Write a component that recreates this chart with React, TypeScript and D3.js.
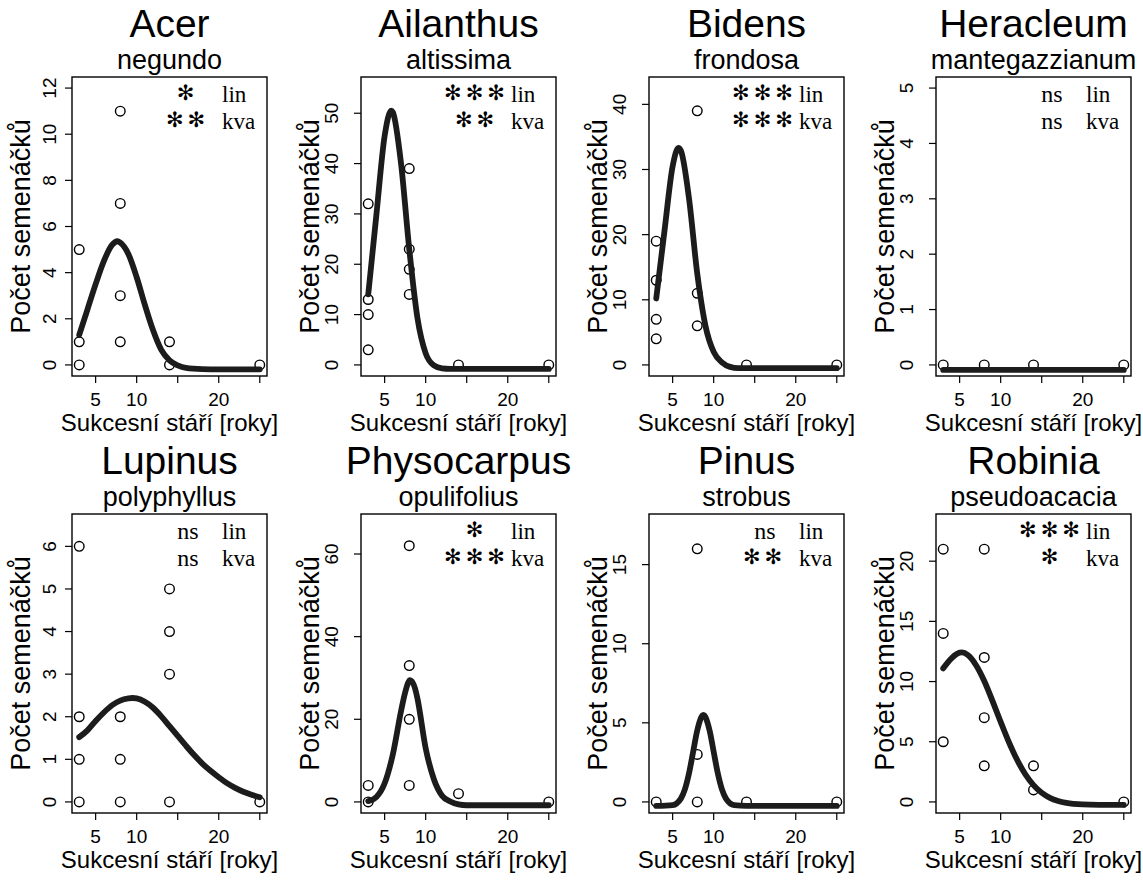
import React from 'react';
import * as d3 from 'd3';

const W = 1143;
const H = 884;
const SANS = '"Liberation Sans", Arial, Helvetica, sans-serif';
const SERIF = '"Liberation Serif", "Times New Roman", serif';
const STARFONT = '"DejaVu Sans", sans-serif';

// ---------- data ----------
const genera = ['Acer', 'Ailanthus', 'Bidens', 'Heracleum', 'Lupinus', 'Physocarpus', 'Pinus', 'Robinia'];
const epithets = ['negundo', 'altissima', 'frondosa', 'mantegazzianum', 'polyphyllus', 'opulifolius', 'strobus', 'pseudoacacia'];
const sigLin = ['*', '***', '***', 'ns', 'ns', '*', 'ns', '***'];
const sigKva = ['**', '**', '***', 'ns', 'ns', '***', '**', '*'];
const yMaxes = [12, 55, 42.5, 5, 6.5, 67, 17.5, 23];
const yTickSets = [
  [0, 2, 4, 6, 8, 10, 12],
  [0, 10, 20, 30, 40, 50],
  [0, 10, 20, 30, 40],
  [0, 1, 2, 3, 4, 5],
  [0, 1, 2, 3, 4, 5, 6],
  [0, 20, 40, 60],
  [0, 5, 10, 15],
  [0, 5, 10, 15, 20],
];
const xTicks = [5, 10, 15, 20, 25];
const xTickLabels = ['5', '10', '', '20', ''];
const xRange = [3, 25];
const xTitle = 'Sukcesní stáří [roky]';
const yTitle = 'Počet semenáčků';

const acerPoints = [[3, 5], [3, 1], [3, 0], [8, 11], [8, 7], [8, 3], [8, 1], [14, 1], [14, 0], [25, 0]];
const ailanthusPoints = [[3, 32], [3, 13], [3, 10], [3, 3], [8, 39], [8, 23], [8, 19], [8, 14], [14, 0], [25, 0]];
const bidensPoints = [[3, 19], [3, 13], [3, 7], [3, 4], [8, 39], [8, 11], [8, 6], [14, 0], [25, 0]];
const heracleumPoints = [[3, 0], [8, 0], [14, 0], [25, 0]];
const lupinusPoints = [[3, 6], [3, 2], [3, 1], [3, 0], [8, 2], [8, 1], [8, 0], [14, 5], [14, 4], [14, 3], [14, 0], [25, 0]];
const physocarpusPoints = [[3, 4], [3, 0], [8, 62], [8, 33], [8, 20], [8, 4], [14, 2], [25, 0]];
const pinusPoints = [[3, 0], [8, 16], [8, 3], [8, 0], [14, 0], [25, 0]];
const robiniaPoints = [[3, 21], [3, 14], [3, 5], [8, 21], [8, 12], [8, 7], [8, 3], [14, 3], [14, 1], [25, 0]];

const acerCurve = [[3, 1.3], [4, 2.4], [5, 3.5], [6, 4.5], [7, 5.2], [7.65, 5.36], [8, 5.3], [9, 4.8], [10, 3.8], [11, 2.6], [12, 1.5], [13, 0.65], [14, 0.2], [15, -0.02], [16, -0.13], [18, -0.18], [20, -0.19], [25, -0.19]];
const ailanthusCurve = [[3, 14], [4, 29.9], [5, 45.5], [5.8, 50.5], [6, 50.2], [7, 40], [8, 23], [9, 9.3], [10, 2.3], [11, -0.1], [12, -0.7], [13, -0.8], [25, -0.8]];
const bidensCurve = [[3, 10.2], [4, 20.5], [5, 30.5], [5.7, 33.3], [6, 32.9], [7, 25.5], [8, 14], [9, 6], [10, 2], [11, 0.4], [12, -0.3], [13, -0.5], [25, -0.5]];
const heracleumCurve = [[3, -0.09], [8, -0.09], [14, -0.09], [25, -0.09]];
const lupinusCurve = [[3, 1.52], [4, 1.68], [5, 1.9], [6, 2.1], [7, 2.27], [8, 2.38], [9, 2.43], [9.5, 2.44], [10, 2.43], [11, 2.35], [12, 2.21], [13, 2.01], [14, 1.78], [15, 1.55], [16, 1.32], [17, 1.1], [18, 0.9], [19, 0.73], [20, 0.58], [21, 0.44], [22, 0.33], [23, 0.24], [24, 0.17], [25, 0.11]];
const physocarpusCurve = [[3, 0.2], [4, 1.2], [5, 4.5], [6, 11.5], [7, 22], [7.5, 26.5], [8.1, 29.5], [8.7, 27.5], [9, 25], [10, 13], [11, 5.5], [12, 1.5], [13, 0.1], [14, -0.6], [15, -0.8], [25, -0.8]];
const pinusCurve = [[3, -0.25], [5, -0.2], [6, 0.21], [6.5, 0.81], [7, 1.82], [7.5, 3.17], [8, 4.52], [8.75, 5.5], [9.5, 4.52], [10, 3.17], [10.5, 1.82], [11, 0.81], [11.5, 0.21], [12.5, -0.2], [14, -0.25], [25, -0.25]];
const robiniaCurve = [[3, 11.1], [4, 11.93], [5, 12.4], [5.3, 12.42], [6, 12.2], [7, 11.36], [8, 10.05], [9, 8.4], [10, 6.65], [11, 4.97], [12, 3.5], [13, 2.3], [14, 1.4], [15, 0.76], [16, 0.34], [17, 0.08], [18, -0.08], [20, -0.21], [22, -0.24], [25, -0.25]];

const pointSets = [acerPoints, ailanthusPoints, bidensPoints, heracleumPoints, lupinusPoints, physocarpusPoints, pinusPoints, robiniaPoints];
const curveSets = [acerCurve, ailanthusCurve, bidensCurve, heracleumCurve, lupinusCurve, physocarpusCurve, pinusCurve, robiniaCurve];

// ---------- layout ----------
const boxLefts = [72, 361, 649, 936];
const boxW = 195;
const boxTops = [77, 514];
const boxH = 299;
const yLabelOffsets = [16, 23, 23, 23];

function Stars({ text, x, y }: { text: string; x: number; y: number }) {
  if (text === 'ns') {
    return (
      <text x={x + 2} y={y} textAnchor="middle" fontFamily={SERIF} fontSize={24}>
        ns
      </text>
    );
  }
  const glyphs = text.replace(/\*/g, '\u273B');
  return (
    <text x={x + 1.5} y={y - 2} textAnchor="middle" fontFamily={STARFONT} fontSize={21} letterSpacing={4}>
      {glyphs}
    </text>
  );
}

function Panel({ i }: { i: number }) {
  const col = i % 4;
  const row = Math.floor(i / 4);
  const left = boxLefts[col];
  const top = boxTops[row];
  const right = left + boxW;
  const bottom = top + boxH;
  const xp = (xRange[1] - xRange[0]) * 0.04;
  const x = d3.scaleLinear().domain([xRange[0] - xp, xRange[1] + xp]).range([left, right]);
  const yMax = yMaxes[i];
  const yp = yMax * 0.04;
  const y = d3.scaleLinear().domain([-yp, yMax + yp]).range([bottom, top]);
  const line = d3
    .line<number[]>()
    .x((d) => x(d[0]))
    .y((d) => y(d[1]))
    .curve(d3.curveMonotoneX);
  const cx = (left + right) / 2;
  const cy = (top + bottom) / 2;
  const yl = yLabelOffsets[col];

  return (
    <g>
      <text x={cx} y={top - 40.5} textAnchor="middle" fontFamily={SANS} fontSize={39}>
        {genera[i]}
      </text>
      <text x={cx} y={top - 8} textAnchor="middle" fontFamily={SANS} fontSize={27}>
        {epithets[i]}
      </text>

      {/* points */}
      {pointSets[i].map((d, k) => (
        <circle key={k} cx={x(d[0])} cy={y(d[1])} r={4.8} fill="none" stroke="#000" strokeWidth={1.4} />
      ))}

      {/* fitted curve */}
      <path d={line(curveSets[i] as number[][]) || ''} fill="none" stroke="#1c1c1c" strokeWidth={5.8} strokeLinecap="round" strokeLinejoin="round" />

      {/* box */}
      <rect x={left} y={top} width={boxW} height={boxH} fill="none" stroke="#000" strokeWidth={1.4} />

      {/* x axis */}
      {xTicks.map((t, k) => (
        <g key={k}>
          <line x1={x(t)} x2={x(t)} y1={bottom} y2={bottom + 7} stroke="#000" strokeWidth={1.2} />
          {xTickLabels[k] ? (
            <text x={x(t)} y={bottom + 30} textAnchor="middle" fontFamily={SANS} fontSize={19}>
              {xTickLabels[k]}
            </text>
          ) : null}
        </g>
      ))}
      <text x={cx} y={bottom + 55} textAnchor="middle" fontFamily={SANS} fontSize={24}>
        {xTitle}
      </text>

      {/* y axis */}
      {yTickSets[i].map((t, k) => (
        <g key={k}>
          <line x1={left - 7} x2={left} y1={y(t)} y2={y(t)} stroke="#000" strokeWidth={1.2} />
          <text
            transform={`translate(${left - yl},${y(t)}) rotate(-90)`}
            textAnchor="middle"
            fontFamily={SANS}
            fontSize={19}
          >
            {t}
          </text>
        </g>
      ))}
      <text transform={`translate(${left - 42},${cy}) rotate(-90)`} textAnchor="middle" fontFamily={SANS} fontSize={27}>
        {yTitle}
      </text>

      {/* significance */}
      <Stars text={sigLin[i]} x={right - 81} y={top + 25} />
      <Stars text={sigKva[i]} x={right - 81} y={top + 51.5} />
      <text x={right - 45} y={top + 25} fontFamily={SERIF} fontSize={23}>
        lin
      </text>
      <text x={right - 45} y={top + 51.5} fontFamily={SERIF} fontSize={23}>
        kva
      </text>
    </g>
  );
}

export default function App() {
  React.useEffect(() => {
    document.body.style.margin = '0';
  }, []);
  return (
    <svg
      width={W}
      height={H}
      viewBox={`0 0 ${W} ${H}`}
      style={{ display: 'block', position: 'absolute', left: 0, top: 0, background: '#fff' }}
    >
      <rect x={0} y={0} width={W} height={H} fill="#fff" />
      {genera.map((_, i) => (
        <Panel key={i} i={i} />
      ))}
    </svg>
  );
}
